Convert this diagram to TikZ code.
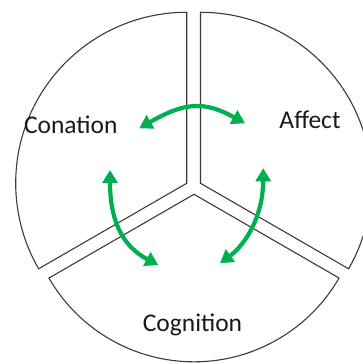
\documentclass[tikz,border=0pt]{standalone}
\usepackage{fontspec}
\setmainfont{Carlito}
\usetikzlibrary{arrows.meta}
\definecolor{cycgreen}{HTML}{00B050}
\definecolor{edgegray}{HTML}{3A3A3A}
\definecolor{labeltext}{HTML}{1A1A1A}
\begin{document}
\begin{tikzpicture}[x=1pt,y=1pt,
  sector/.style={draw=edgegray, line width=1.1pt, line join=miter},
  label/.style={font=\fontsize{25.5}{30}\selectfont, text=labeltext, inner sep=0pt, anchor=base},
  cyclearrow/.style={draw=cycgreen, line width=4.2pt,
    {Triangle[length=13pt,width=15pt]}-{Triangle[length=13pt,width=15pt]}}]
  \clip (0,0) rectangle (363,364);

  % apexes of the three separated pie sectors
  \coordinate (apexL) at (186.7,180.7);
  \coordinate (apexR) at (200.5,180.7);
  \coordinate (apexB) at (194,169.7);

  % sectors
  \draw[sector] (apexL) -- ++(90:171) arc[start angle=90, end angle=210, radius=171] -- cycle;
  \draw[sector] (apexR) -- ++(90:171) arc[start angle=90, end angle=-30, radius=171] -- cycle;
  \draw[sector] (apexB) -- ++(210:167.5) arc[start angle=210, end angle=330, radius=167.5] -- cycle;

  % labels
  \node[label] (conation) at (70.8,230.7) {Conation};
  \node[label] (affect) at (310,235.7) {Affect};
  \node[label] (cognition) at (192.5,32.3) {Cognition};

  % arrow ends
  \coordinate (topL) at (139.3,235.7);
  \coordinate (topR) at (245,240.7);
  \coordinate (leftT) at (110,194);
  \coordinate (leftB) at (158.3,99);
  \coordinate (rightT) at (263.3,195.7);
  \coordinate (rightB) at (220,100.7);

  % curved double arrows
  \draw[cyclearrow] (topL) .. controls (186,262.6) and (205,262.6) .. (topR);
  \draw[cyclearrow] (leftT) .. controls (110,144) and (122,118) .. (leftB);
  \draw[cyclearrow] (rightT) .. controls (263,148) and (246,120) .. (rightB);
\end{tikzpicture}
\end{document}
